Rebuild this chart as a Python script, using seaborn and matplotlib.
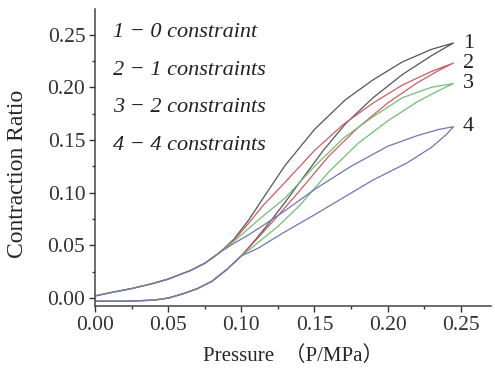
import numpy as np
import pandas as pd
import matplotlib
matplotlib.use("Agg")
import matplotlib.pyplot as plt
import seaborn as sns
from matplotlib.ticker import MultipleLocator

sns.set_style("ticks")
plt.rcParams['font.family'] = ['Liberation Serif', 'Noto Sans CJK SC']

# tramo inferior comun (carga) y superior comun (descarga) a baja presion
p_low_a = [0.0, 0.02, 0.04, 0.05, 0.06, 0.07, 0.08, 0.09]
y_low_a = [-0.003, -0.003, -0.002, 0.0, 0.004, 0.009, 0.016, 0.027]
p_low_b = [0.0, 0.01, 0.025, 0.04, 0.05, 0.065, 0.075]
y_low_b = [0.002, 0.005, 0.009, 0.014, 0.018, 0.026, 0.033]

# curva 1 - 0 constraint
p1_a = [0.10, 0.11, 0.12, 0.13, 0.14, 0.156, 0.171, 0.19, 0.21, 0.23, 0.245]
y1_a = [0.040, 0.056, 0.073, 0.091, 0.110, 0.140, 0.165, 0.190, 0.212, 0.230, 0.242]
p1_b = [0.085, 0.095, 0.105, 0.115, 0.13, 0.15, 0.171, 0.19, 0.21, 0.23, 0.245]
y1_b = [0.043, 0.056, 0.074, 0.095, 0.126, 0.160, 0.188, 0.207, 0.224, 0.236, 0.242]

# curva 2 - 1 constraints
p2_a = [0.10, 0.11, 0.125, 0.14, 0.16, 0.18, 0.20, 0.22, 0.235, 0.245]
y2_a = [0.040, 0.055, 0.078, 0.102, 0.135, 0.162, 0.185, 0.204, 0.216, 0.223]
p2_b = [0.085, 0.095, 0.105, 0.115, 0.13, 0.15, 0.17, 0.19, 0.21, 0.23, 0.245]
y2_b = [0.043, 0.055, 0.071, 0.088, 0.110, 0.140, 0.165, 0.185, 0.202, 0.215, 0.223]

# curva 3 - 2 constraints
p3_a = [0.10, 0.11, 0.125, 0.14, 0.16, 0.18, 0.20, 0.22, 0.235, 0.245]
y3_a = [0.040, 0.051, 0.068, 0.088, 0.120, 0.147, 0.168, 0.186, 0.197, 0.2035]
p3_b = [0.085, 0.095, 0.105, 0.115, 0.13, 0.15, 0.17, 0.19, 0.21, 0.23, 0.245]
y3_b = [0.043, 0.054, 0.066, 0.078, 0.095, 0.125, 0.152, 0.172, 0.190, 0.200, 0.2035]

# curva 4 - 4 constraints
p4_a = [0.10, 0.111, 0.13, 0.15, 0.167, 0.19, 0.213, 0.23, 0.24, 0.245]
y4_a = [0.040, 0.047, 0.063, 0.079, 0.093, 0.112, 0.128, 0.143, 0.155, 0.1626]
p4_b = [0.085, 0.095, 0.105, 0.115, 0.13, 0.15, 0.175, 0.20, 0.22, 0.235, 0.245]
y4_b = [0.043, 0.052, 0.060, 0.069, 0.083, 0.103, 0.125, 0.144, 0.154, 0.160, 0.1626]

etiquetas = ['1', '2', '3', '4']
leyenda = ['1 − 0 constraint', '2 − 1 constraints', '3 − 2 constraints', '4 − 4 constraints']
colores = ['#555555', '#d25a64', '#6fc06f', '#7474b4']

curvas = [(p1_a, y1_a, p1_b, y1_b), (p2_a, y2_a, p2_b, y2_b),
          (p3_a, y3_a, p3_b, y3_b), (p4_a, y4_a, p4_b, y4_b)]

filas = []
for et, (pa, ya, pb, yb) in zip(etiquetas, curvas):
    px = p_low_a + pa + (p_low_b + pb)[::-1]
    py = y_low_a + ya + (y_low_b + yb)[::-1]
    for i, (x, y) in enumerate(zip(px, py)):
        filas.append({'curva': et, 'orden': i, 'P': x, 'ratio': y})
df = pd.DataFrame(filas)

fig = plt.figure(figsize=(4.95, 3.71), dpi=100)
ax = fig.add_axes([0.192, 0.175, 0.80, 0.80])

for et, col, c in zip(etiquetas, colores, curvas):
    sub = df[df['curva'] == et]
    sns.lineplot(data=sub, x='P', y='ratio', sort=False, estimator=None,
                 color=col, linewidth=0.9, ax=ax)
    ax.text(0.2515, c[1][-1], et, fontsize=16, va='center', ha='left', color='#222222')

ax.set_xlim(0, 0.2707)
ax.set_ylim(-0.0076, 0.274)
ticks = np.arange(0, 0.26, 0.05)
ax.set_xticks(ticks)
ax.set_yticks(ticks)
ax.xaxis.set_minor_locator(MultipleLocator(0.025))
ax.yaxis.set_minor_locator(MultipleLocator(0.025))
ax.set_xticklabels([f'{v:.2f}' for v in ticks])
ax.set_yticklabels([f'{v:.2f}' for v in ticks])
ax.tick_params(which='major', length=4, width=1, labelsize=15.5, colors='#333333', pad=3)
ax.tick_params(which='minor', length=2.5, width=1, colors='#333333')
for s in ['left', 'bottom']:
    ax.spines[s].set_color('#444444')
    ax.spines[s].set_linewidth(1.1)
sns.despine(ax=ax)

ax.set_xlabel('Pressure  （P/MPa）', fontsize=15, labelpad=8)
ax.set_ylabel('Contraction Ratio', fontsize=17)
ax.yaxis.set_label_coords(-0.17, 0.446)

for i, txt in enumerate(leyenda):
    ax.text(0.012, 0.252 - i * 0.0358, txt, fontsize=16, style='italic',
            va='center', ha='left', color='#222222')

fig.savefig('out.png', dpi=100)
